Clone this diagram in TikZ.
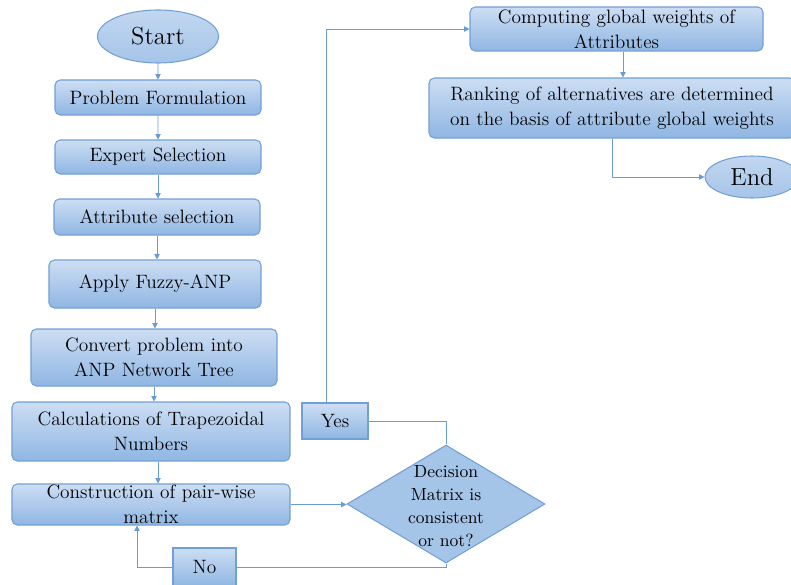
\documentclass[tikz,border=0pt]{standalone}
\usepackage{amsmath}
\usepackage{tikz}
\usetikzlibrary{shapes.geometric,arrows.meta}
\definecolor{flowline}{RGB}{104,156,212}
\definecolor{boxedge}{RGB}{115,160,212}
\definecolor{boxtop}{RGB}{205,222,243}
\definecolor{boxbot}{RGB}{143,182,227}
\definecolor{ovalfill}{RGB}{168,198,233}

\begin{document}
\begin{tikzpicture}[scale=0.2]
\tikzstyle{every node}+=[inner sep=0pt, align=center, font=\fontsize{11}{14}\selectfont]
\tikzstyle{stepbox}=[draw=boxedge, line width=0.6pt, rounded corners=3pt, top color=boxtop, bottom color=boxbot]
\tikzstyle{answer}=[draw=boxedge, line width=0.6pt, top color=boxtop, bottom color=boxbot]
\tikzstyle{terminal}=[ellipse, draw=boxedge, line width=0.6pt, top color=boxtop!70!ovalfill, bottom color=ovalfill!90!boxbot, font=\fontsize{14}{16}\selectfont]
\tikzstyle{flow}=[draw=flowline, line width=0.5pt, -{Triangle[length=3pt,width=3pt]}]
\tikzstyle{plain}=[draw=flowline, line width=0.5pt]
\useasboundingbox (0,0) rectangle (79.1,-58.4);
% left column
\node [terminal, minimum width=2.42cm, minimum height=1.06cm] (start) at (15.8,-3.65) {Start};
\node [stepbox, minimum width=4.12cm, minimum height=0.70cm] (prob) at (15.8,-9.75) {Problem Formulation};
\node [stepbox, minimum width=4.12cm, minimum height=0.68cm] (expert) at (15.8,-15.7) {Expert Selection};
\node [stepbox, minimum width=4.12cm, minimum height=0.72cm] (attr) at (15.7,-21.7) {Attribute selection};
\node [stepbox, minimum width=4.24cm, minimum height=0.96cm] (fuzzy) at (15.5,-28.4) {Apply Fuzzy-ANP};
\node [stepbox, minimum width=4.92cm, minimum height=1.14cm] (convert) at (15.4,-35.75) {Convert problem into\\ANP Network Tree};
\node [stepbox, minimum width=5.56cm, minimum height=1.18cm] (trap) at (15.1,-43.15) {Calculations of Trapezoidal\\Numbers};
\node [stepbox, minimum width=5.56cm, minimum height=0.82cm] (pair) at (15.1,-50.45) {Construction of pair-wise\\matrix};
% decision
\node [diamond, draw=boxedge, line width=0.6pt, fill=ovalfill!85!boxbot, minimum width=3.96cm, minimum height=2.36cm] (dec) at (44.6,-50.4) {};
\node [font=\fontsize{10}{13}\selectfont] (dectext) at (44.6,-50.6) {Decision\\Matrix is\\consistent\\or not?};
\node [answer, minimum width=1.26cm, minimum height=0.76cm] (no) at (20.45,-56.7) {No};
\node [answer, minimum width=1.32cm, minimum height=0.72cm] (yes) at (33.5,-42.1) {Yes};
% right column
\node [stepbox, minimum width=5.86cm, minimum height=0.88cm] (glob) at (61.65,-2.9) {Computing global weights of\\Attributes};
\node [stepbox, minimum width=7.32cm, minimum height=1.20cm] (rank) at (61.2,-10.8) {Ranking of alternatives are determined\\on the basis of attribute global weights};
\node [terminal, minimum width=1.88cm, minimum height=0.84cm] (end) at (75.2,-17.7) {End};
% connectors
\draw [flow] (start) -- (prob);
\draw [flow] (prob) -- (expert);
\draw [flow] (expert.south) -- (expert.south |- attr.north);
\draw [flow] (attr.south) -- (attr.south |- fuzzy.north);
\draw [flow] (fuzzy.south) -- (fuzzy.south |- convert.north);
\draw [flow] (convert.south) -- (convert.south |- trap.north);
\draw [flow] ([xshift=0.7cm]trap.south) -- ([xshift=0.7cm]trap.south |- pair.north);
\draw [flow] (pair.east) -- (pair.east -| dec.west);
\draw [plain] (dec.south) |- (no.east);
\draw [flow] (no.west) -| ([xshift=-1.4cm]pair.south);
\draw [plain] (dec.north) |- (yes.east);
\draw [flow] ([xshift=-0.9cm]yes.north) |- (glob.west);
\draw [flow] ([xshift=0.65cm]glob.south) -- ([xshift=0.65cm]glob.south |- rank.north);
\draw [flow] (rank.south) |- (end.west);
\end{tikzpicture}
\end{document}
